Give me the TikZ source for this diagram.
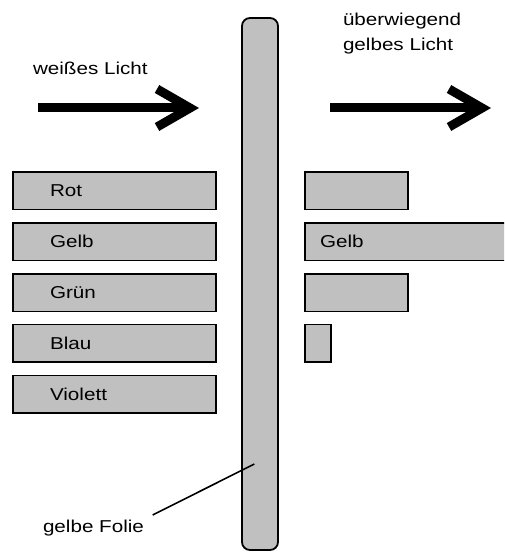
\documentclass[tikz,border=0pt]{standalone}
\usepackage{fontspec}
\setmainfont[FakeStretch=1.2]{Liberation Sans}
\usetikzlibrary{calc}
\definecolor{foilgray}{HTML}{C0C0C0}
\begin{document}
\begin{tikzpicture}[x=1pt,y=-1pt,
  every node/.style={inner sep=0pt,outer sep=0pt,font=\fontsize{17.2}{20}\selectfont},
  colorbox/.style={draw=black,fill=foilgray,line width=1.7pt,anchor=north west},
  foil/.style={draw=black,fill=foilgray,line width=1.8pt,rounded corners=8pt},
  beam/.style={line width=9pt,line join=miter,line cap=butt},
  lbl/.style={anchor=base west},
  pointer/.style={line width=1.6pt}]
\useasboundingbox (0,0) rectangle (504,553);
\clip (0,0) rectangle (504,553);

% the yellow foil
\draw[foil] (242,18) rectangle (278,550);
\coordinate (foilmid) at (260,284);

% incoming white light
\coordinate (inA) at (38,108);
\coordinate (inB) at (190,108);
\draw[beam] (inA) -- (inB);
\draw[beam] ($(inB)+(-33,-19)$) -- (inB) -- ($(inB)+(-33,19)$);
\node[lbl] (inlabel) at (33,75) {weißes Licht};

% outgoing, mostly yellow light
\coordinate (outA) at (330,108);
\coordinate (outB) at (482,108);
\draw[beam] (outA) -- (outB);
\draw[beam] ($(outB)+(-33,-19)$) -- (outB) -- ($(outB)+(-33,19)$);
\node[lbl] (outlabel1) at (343,26) {überwiegend};
\node[lbl] (outlabel2) at (343,51) {gelbes Licht};

% spectrum before the foil
\node[colorbox,minimum width=203,minimum height=37.5] (lrot) at (13,172) {};
\node[colorbox,minimum width=203,minimum height=37.5] (lgelb) at (13,223) {};
\node[colorbox,minimum width=203,minimum height=37.5] (lgruen) at (13,274) {};
\node[colorbox,minimum width=203,minimum height=37.5] (lblau) at (13,324.5) {};
\node[colorbox,minimum width=203,minimum height=37.5] (lviolett) at (13,375.5) {};
\node[lbl] (trot) at (50,196.7) {Rot};
\node[lbl] (tgelb) at (50,247.7) {Gelb};
\node[lbl] (tgruen) at (50,298.7) {Grün};
\node[lbl] (tblau) at (50,349.2) {Blau};
\node[lbl] (tviolett) at (50,400.2) {Violett};

% spectrum behind the foil
\node[colorbox,minimum width=102.5,minimum height=37.5] (rrot) at (305.2,172) {};
\node[colorbox,minimum width=210,minimum height=37.5] (rgelb) at (305.2,223) {};
\node[colorbox,minimum width=102.5,minimum height=37.5] (rgruen) at (305.2,274) {};
\node[colorbox,minimum width=25.5,minimum height=37.5] (rblau) at (305.2,324.5) {};
\node[lbl] (trgelb) at (320,247.7) {Gelb};

% label of the foil
\node[lbl] (foillabel) at (43,532) {gelbe Folie};
\coordinate (ptrstart) at (152.7,515);
\coordinate (ptrend) at (254.3,464);
\draw[pointer] (ptrstart) -- (ptrend);
\end{tikzpicture}
\end{document}
